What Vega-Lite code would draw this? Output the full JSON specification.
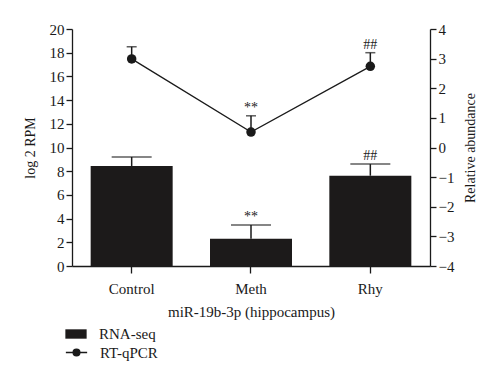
{
  "$schema": "https://vega.github.io/schema/vega-lite/v6.json",
  "width": 358,
  "height": 237,
  "autosize": {"type": "none"},
  "padding": {"left": 72, "top": 29, "right": 70, "bottom": 117},
  "background": "white",
  "config": {
    "view": {"stroke": null},
    "font": "Liberation Serif",
    "axis": {"grid": false, "domainColor": "#1a1a1a", "tickColor": "#1a1a1a", "labelColor": "#1a1a1a", "titleColor": "#1a1a1a", "labelFont": "Liberation Serif", "titleFont": "Liberation Serif", "titleFontWeight": "normal", "labelFontSize": 15, "titleFontSize": 14, "tickSize": 6, "domainWidth": 1.3, "tickWidth": 1.3},
    "legend": {"labelFont": "Liberation Serif", "labelFontSize": 15, "labelColor": "#1a1a1a"}
  },
  "data": {
    "values": [
      {"group": "Control", "rnaseq": 8.44, "rnaseq_err": 9.2, "qpcr": 2.99, "qpcr_err": 3.4, "bar_sig": "", "pt_sig": ""},
      {"group": "Meth", "rnaseq": 2.3, "rnaseq_err": 3.46, "qpcr": 0.52, "qpcr_err": 1.07, "bar_sig": "**", "pt_sig": "**"},
      {"group": "Rhy", "rnaseq": 7.62, "rnaseq_err": 8.6, "qpcr": 2.74, "qpcr_err": 3.2, "bar_sig": "##", "pt_sig": "##"}
    ]
  },
  "encoding": {
    "x": {
      "field": "group", "type": "nominal", "sort": null,
      "scale": {"paddingInner": 0.31, "paddingOuter": 0.155},
      "axis": {"title": "miR-19b-3p (hippocampus)", "labelAngle": 0, "labelFontSize": 15, "titleFontSize": 15, "labelPadding": 8, "titlePadding": 8, "tickSize": 7}
    }
  },
  "layer": [
    {
      "encoding": {
        "y": {"type": "quantitative", "scale": {"domain": [0, 20], "nice": false}, "axis": {"title": "log 2 RPM", "values": [0,2,4,6,8,10,12,14,16,18,20], "titlePadding": 12}}
      },
      "layer": [
        {"mark": {"type": "rule", "color": "#1a1a1a", "strokeWidth": 1.5}, "encoding": {"y": {"field": "rnaseq"}, "y2": {"field": "rnaseq_err"}}},
        {"mark": {"type": "tick", "color": "#1a1a1a", "size": 40, "thickness": 1.5}, "encoding": {"y": {"field": "rnaseq_err"}}},
        {"mark": {"type": "bar", "width": 82}, "encoding": {"y": {"field": "rnaseq"}, "fill": {"datum": "RNA-seq", "scale": {"range": ["#1c1a1a"]}, "legend": {"title": null, "orient": "none", "legendX": -5, "legendY": 296, "symbolType": "M-1.25,-0.55H1.25V0.55H-1.25Z", "symbolSize": 290, "symbolStrokeWidth": 0, "labelOffset": 14}}}},
        {"mark": {"type": "text", "dy": -8, "fontSize": 14, "fill": "#1a1a1a"}, "encoding": {"y": {"field": "rnaseq_err"}, "text": {"field": "bar_sig"}}}
      ]
    },
    {
      "encoding": {
        "y": {"type": "quantitative", "scale": {"domain": [-4, 4], "nice": false}, "axis": {"title": "Relative abundance", "orient": "right", "titleAngle": -90, "titleBaseline": "top", "values": [-4,-3,-2,-1,0,1,2,3,4], "titlePadding": 10}}
      },
      "layer": [
        {"mark": {"type": "rule", "color": "#1a1a1a", "strokeWidth": 1.5}, "encoding": {"y": {"field": "qpcr"}, "y2": {"field": "qpcr_err"}}},
        {"mark": {"type": "tick", "color": "#1a1a1a", "size": 10, "thickness": 1.5}, "encoding": {"y": {"field": "qpcr_err"}}},
        {"mark": {"type": "line", "strokeWidth": 1.3}, "encoding": {"y": {"field": "qpcr"}, "stroke": {"datum": "RT-qPCR", "scale": {"range": ["#1a1a1a"]}, "legend": {"title": null, "orient": "none", "legendX": -5, "legendY": 314, "symbolType": "M-1.25,0H1.25M0.4,0A0.4,0.4 0 1,1 -0.4,0A0.4,0.4 0 1,1 0.4,0Z", "symbolSize": 290, "symbolFillColor": "#1a1a1a", "symbolStrokeWidth": 1.3, "labelOffset": 14}}}},
        {"mark": {"type": "point", "filled": true, "size": 90, "color": "#1a1a1a", "opacity": 1}, "encoding": {"y": {"field": "qpcr"}}},
        {"mark": {"type": "text", "dy": -8, "fontSize": 14, "fill": "#1a1a1a"}, "encoding": {"y": {"field": "qpcr_err"}, "text": {"field": "pt_sig"}}}
      ]
    }
  ],
  "resolve": {"scale": {"y": "independent", "fill": "independent", "stroke": "independent"}, "legend": {"fill": "independent", "stroke": "independent"}}
}
